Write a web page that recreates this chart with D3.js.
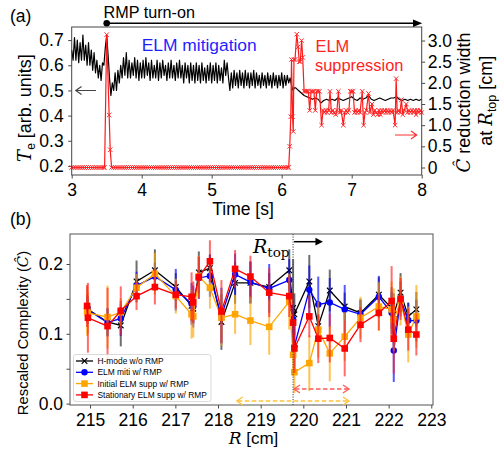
<!DOCTYPE html>
<html><head><meta charset="utf-8">
<script src="https://cdn.jsdelivr.net/npm/d3@7"></script>
<style>body{margin:0;background:#fff}svg{display:block}text{font-family:"Liberation Sans",Arial,sans-serif;fill:#000}</style>
</head><body><svg id="c" width="501" height="450"></svg>
<script>
// ---------------- DATA: panel (a) ----------------
const teStart = 3.0, teStep = 0.02;           // sampling grid of Te trace (early part)
const teEarly = [
0.66,0.62,0.71,0.62,0.70,0.61,0.69,0.62,0.72,0.62,0.68,0.60,0.69,0.60,0.66,0.58,0.65,0.57,0.62,0.55,0.60,0.54,0.61,
0.60,0.67,0.72,0.64,0.55,0.48,0.53,
0.50,0.57,0.50,0.58,0.53,0.60,0.55,0.63,0.56,0.65,
0.55,0.62,0.55,0.61,0.56,0.63,0.55,0.62,0.54,0.61,
0.55,0.62,0.55,0.63,0.56,0.61,0.54,0.62,0.55,0.60,
0.55,0.62,0.54,0.61,0.55,0.62,0.56,0.60,0.54,0.61,
0.55,0.62,0.55,0.60,0.54,0.61,0.55,0.62,0.55,0.60,
0.53,0.61,0.55,0.60,0.53,0.61,0.54,0.60,0.53,0.61,
0.54,0.60,0.53,0.61,0.54,0.59,0.53,0.60,0.54,0.61,
0.53,0.60,0.54,0.61,0.53,0.60,0.54,0.59,0.53,0.62,
0.56,0.61,0.55,0.50,0.57,0.51,0.58,0.52,0.57,0.51,
0.58,0.52,0.57,0.51,0.58,0.52,0.57,0.51,0.57,0.52,
0.58,0.51,0.57,0.52,0.56,0.51,0.57,0.52,0.56,0.51,
0.57,0.52,0.56,0.51,0.57,0.52,0.56,0.51,0.56,0.52,
0.57,0.51,0.56,0.52,0.56,0.53,0.55,0.52,0.50,0.51,0.51
];
const teLateStart = 6.24, teLateStep = 0.04;   // sampling grid of Te trace (late part)
const teLate = [
0.50,0.49,0.48,0.475,0.47,0.465,0.47,0.465,0.45,0.46,
0.465,0.46,0.465,0.46,0.47,0.465,0.46,0.465,0.47,0.475,
0.465,0.46,0.47,0.465,0.47,0.48,0.465,0.46,0.465,0.47,
0.465,0.46,0.465,0.47,0.47,0.475,0.465,0.46,0.465,0.46,
0.465,0.46,0.465,0.46,0.465
];
// [time s, C-hat reduction width cm]
const cReduction = [
[3.00,0],[3.03,0],[3.06,0],[3.09,0],[3.12,0],[3.15,0],[3.18,0],[3.21,0],[3.24,0],[3.27,0],[3.30,0],[3.33,0],[3.36,0],[3.39,0],[3.42,0],[3.45,0],
[3.47,0],[3.50,3.14],[3.535,1.24],[3.55,0.42],[3.57,0],
[3.60,0],[3.63,0],[3.66,0],[3.69,0],[3.72,0],[3.75,0],[3.78,0],[3.81,0],[3.84,0],[3.87,0],
[3.90,0],[3.93,0],[3.96,0],[3.99,0],[4.02,0],[4.05,0],[4.08,0],[4.11,0],[4.14,0],[4.17,0],
[4.20,0],[4.23,0],[4.26,0],[4.29,0],[4.32,0],[4.35,0],[4.38,0],[4.41,0],[4.44,0],[4.47,0],
[4.50,0],[4.53,0],[4.56,0],[4.59,0],[4.62,0],[4.65,0],[4.68,0],[4.71,0],[4.74,0],[4.77,0],
[4.80,0],[4.83,0],[4.86,0],[4.89,0],[4.92,0],[4.95,0],[4.98,0],[5.01,0],[5.04,0],[5.07,0],
[5.10,0],[5.13,0],[5.16,0],[5.19,0],[5.22,0],[5.25,0],[5.28,0],[5.31,0],[5.34,0],[5.37,0],
[5.40,0],[5.43,0],[5.46,0],[5.49,0],[5.52,0],[5.55,0],[5.58,0],[5.61,0],[5.64,0],[5.67,0],
[5.70,0],[5.73,0],[5.76,0],[5.79,0],[5.82,0],[5.85,0],[5.88,0],[5.91,0],[5.94,0],[5.97,0],
[6.00,0],[6.03,0],[6.06,0],[6.09,0],
[6.10,0],[6.115,0.5],[6.13,1.2],[6.14,2.55],[6.155,1.2],[6.165,0.85],[6.175,2.55],[6.19,2.55],[6.215,3.15],[6.235,2.85],
[6.25,2.5],[6.265,2.5],[6.285,3.0],[6.30,2.6],[6.32,1.8],[6.34,1.8],[6.36,1.8],[6.38,1.8],[6.40,1.35],[6.42,1.8],
[6.44,1.8],[6.46,1.8],[6.48,1.35],[6.50,1.8],[6.52,1.8],[6.54,1.8],[6.57,1.0],[6.59,1.35],[6.61,1.3],[6.63,1.35],
[6.65,1.3],[6.67,1.35],[6.69,1.8],[6.71,1.3],[6.73,1.35],[6.75,1.3],[6.77,1.25],[6.79,1.35],[6.81,1.8],[6.83,1.3],
[6.85,1.35],[6.88,1.0],[6.90,1.3],[6.92,1.35],[6.94,1.3],[6.96,1.35],[6.98,1.8],[7.00,1.8],[7.02,1.8],[7.04,1.3],
[7.06,1.35],[7.08,1.3],[7.10,1.35],[7.12,1.3],[7.15,1.8],[7.17,1.0],[7.19,1.3],[7.21,1.35],[7.24,1.75],[7.26,1.3],
[7.29,1.5],[7.31,1.25],[7.33,1.35],[7.35,1.3],[7.37,1.25],[7.39,1.35],[7.41,1.25],[7.43,1.35],[7.45,1.3],[7.47,1.35],
[7.49,1.3],[7.51,1.35],[7.53,1.3],[7.55,1.35],[7.57,1.3],[7.59,1.35],[7.62,1.0],[7.635,2.1],[7.65,1.3],[7.67,1.35],
[7.69,1.3],[7.71,1.6],[7.73,1.25],[7.75,1.35],[7.78,1.5],[7.80,1.3],[7.82,1.35],[7.84,1.3],[7.86,1.35],[7.88,1.3],
[7.90,1.35],[7.92,1.25],[7.94,1.35],[7.96,1.3],[7.98,1.35],[8.00,1.3]
];
const timeTicks = [3,4,5,6,7,8];
const teTicks = [0.2,0.3,0.4,0.5,0.6,0.7];
const widthTicks = [0,0.5,1.0,1.5,2.0,2.5,3.0];
const rmpOnTime = 3.5;

// ---------------- DATA: panel (b) ----------------
const channelR = [214.93,214.95,215.41,215.72,216.09,216.52,217.01,217.38,217.42,217.55,217.81,218.08,218.40,218.76,219.20,219.67,219.76,219.79,220.14,220.35,220.62,220.97,221.34,221.77,222.07,222.12,222.28,222.46,222.65];
const hmodeVals = [0.138,0.135,0.117,0.112,0.175,0.191,0.167,0.140,0.136,0.188,0.194,0.117,0.173,0.173,0.167,0.191,0.137,0.128,0.175,0.111,0.162,0.139,0.130,0.156,0.137,0.128,0.159,0.125,0.135];
const hmodeErr  = [0.015,0.015,0.02,0.03,0.03,0.03,0.02,0.02,0.02,0.03,0.02,0.04,0.03,0.03,0.02,0.03,0.07,0.03,0.038,0.015,0.03,0.02,0.02,0.025,0.03,0.03,0.028,0.02,0.025];
const mitiVals  = [0.136,0.134,0.116,0.122,0.169,0.182,0.163,0.143,0.139,0.180,0.183,0.126,0.185,0.174,0.165,0.177,0.121,0.082,0.163,0.142,0.145,0.135,0.128,0.153,0.130,0.076,0.150,0.119,0.119];
const mitiErr   = [0.02,0.02,0.02,0.025,0.02,0.02,0.03,0.03,0.03,0.03,0.03,0.04,0.03,0.03,0.035,0.03,0.035,0.04,0.035,0.04,0.035,0.035,0.02,0.03,0.03,0.045,0.025,0.025,0.03];
const initVals  = [0.132,0.130,0.124,0.131,0.166,0.186,0.154,0.128,0.125,0.182,0.166,0.123,0.128,0.119,0.110,0.146,0.070,0.045,0.058,0.106,0.072,0.096,0.123,0.139,0.135,0.120,0.147,0.099,0.125];
const initErr   = [0.035,0.03,0.045,0.02,0.02,0.03,0.025,0.035,0.03,0.03,0.03,0.04,0.028,0.035,0.04,0.04,0.03,0.03,0.04,0.04,0.04,0.035,0.03,0.035,0.04,0.045,0.035,0.04,0.045];
const statVals  = [0.140,0.123,0.111,0.133,0.154,0.167,0.156,0.153,0.145,0.181,0.204,0.132,0.193,0.182,0.159,0.154,0.116,0.079,0.125,0.093,0.094,0.079,0.113,0.130,0.147,0.093,0.150,0.106,0.099];
const statErr   = [0.03,0.05,0.055,0.035,0.02,0.025,0.02,0.035,0.03,0.03,0.03,0.045,0.027,0.03,0.035,0.03,0.04,0.035,0.03,0.035,0.035,0.04,0.025,0.025,0.05,0.05,0.03,0.03,0.03];
const seriesNames = ["H-mode w/o RMP","ELM miti w/ RMP","Initial ELM supp w/ RMP","Stationary ELM supp w/ RMP"];
const rTicks = [215,216,217,218,219,220,221,222,223];
const cTicks = [0,0.05,0.1,0.15,0.2];
const rTop = 219.76;
const rTopArrowEnd = 220.46;
const statSpan = [219.78, 221.07];
const initSpan = [218.44, 221.07];

// ---------------- DRAW ----------------
const svg = d3.select("#c");
svg.append("rect").attr("width",501).attr("height",450).attr("fill","#fff");
const SERIF = '"DejaVu Serif","Liberation Serif",serif';

function styleAxis(g, fs){
  g.select(".domain").remove();
  g.selectAll(".tick line").attr("stroke","#333").attr("stroke-width",0.9);
  g.selectAll(".tick text").attr("font-size",fs).attr("fill","#000")
    .attr("font-family",'"Liberation Sans",Arial,sans-serif');
}

// ===== Panel (a) =====
const xA = d3.scaleLinear([3,8],[71.7,421.7]);
const yL = d3.scaleLinear([0.164,0.752],[175,27]);
const yR = d3.scaleLinear([-0.177,3.32],[175,27]);

const gxa = svg.append("g").attr("transform","translate(0,175)")
  .call(d3.axisBottom(xA).tickValues(timeTicks).tickFormat(d3.format("d")).tickSize(3.5).tickPadding(4.8));
styleAxis(gxa,17.5);
const gyl = svg.append("g").attr("transform","translate(71.7,0)")
  .call(d3.axisLeft(yL).tickValues(teTicks).tickFormat(d3.format(".1f")).tickSize(3.5).tickPadding(4.5));
styleAxis(gyl,17.5);
const gyr = svg.append("g").attr("transform","translate(421.7,0)")
  .call(d3.axisRight(yR).tickValues(widthTicks).tickFormat(d=>d===0?"0":d3.format(".1f")(d)).tickSize(3.5).tickPadding(2.5));
styleAxis(gyr,17.5);

// Te line
const tePts = teEarly.map((v,i)=>[teStart+i*teStep,v]).concat(teLate.map((v,i)=>[teLateStart+i*teLateStep,v]));
svg.append("path").datum(tePts)
  .attr("d",d3.line().x(d=>xA(d[0])).y(d=>yL(d[1])))
  .attr("fill","none").attr("stroke","#000").attr("stroke-width",1.2).attr("stroke-linejoin","round");

// C reduction line + x markers
svg.append("path").datum(cReduction)
  .attr("d",d3.line().x(d=>xA(d[0])).y(d=>yR(d[1])))
  .attr("fill","none").attr("stroke","#ff1a1a").attr("stroke-width",1.2);
svg.append("g").selectAll("path").data(cReduction).join("path")
  .attr("d",d=>{const x=xA(d[0]),y=yR(d[1]),s=2.2;return `M${x-s},${y-s}L${x+s},${y+s}M${x-s},${y+s}L${x+s},${y-s}`;})
  .attr("stroke","#ff2a2a").attr("stroke-width",1).attr("fill","none");

// frame
svg.append("rect").attr("x",71.7).attr("y",27).attr("width",350).attr("height",148)
  .attr("fill","none").attr("stroke","#444").attr("stroke-width",1);

// RMP turn-on arrow
svg.append("line").attr("x1",xA(rmpOnTime)).attr("x2",414).attr("y1",23.3).attr("y2",23.3).attr("stroke","#000").attr("stroke-width",1.5);
svg.append("path").attr("d","M413,19.6L422.2,23.3L413,27Z").attr("fill","#000");
svg.append("circle").attr("cx",xA(rmpOnTime)).attr("cy",23.3).attr("r",3.3).attr("fill","#000");
svg.append("text").attr("x",103.5).attr("y",17.5).attr("font-size",16.2).text("RMP turn-on");
svg.append("text").attr("x",10).attr("y",21.5).attr("font-size",17.5).text("(a)");

svg.append("text").attr("x",141.7).attr("y",50.5).attr("font-size",17.4).style("fill","#1f1fff").text("ELM mitigation");
svg.append("text").attr("x",315.5).attr("y",51.5).attr("font-size",16.4).style("fill","#ff2424").text("ELM");
svg.append("text").attr("x",315).attr("y",71).attr("font-size",16.4).style("fill","#ff2424").text("suppression");

// side arrows
svg.append("path").attr("d","M96,90.5H76M81.5,86.5L75.8,90.5L81.5,94.5").attr("fill","none").attr("stroke","#444").attr("stroke-width",1.2);
svg.append("path").attr("d","M395,135H416.5M411,131L416.7,135L411,139").attr("fill","none").attr("stroke","#ff3030").attr("stroke-width",1.2);

// axis titles (a)
svg.append("text").attr("x",243).attr("y",215).attr("font-size",17.5).attr("text-anchor","middle").text("Time [s]");
const ylab = svg.append("text").attr("transform","translate(31,108) rotate(-90)").attr("text-anchor","middle").attr("font-size",18);
ylab.append("tspan").attr("font-family",SERIF).attr("font-style","italic").text("T");
ylab.append("tspan").attr("font-size",12).attr("dy",4).text("e");
ylab.append("tspan").attr("dy",-4).text(" [arb. units]");
const yr1 = svg.append("text").attr("transform","translate(470,102.5) rotate(-90)").attr("text-anchor","middle").attr("font-size",18);
yr1.append("tspan").attr("font-family",SERIF).attr("font-style","italic").text("Ĉ");
yr1.append("tspan").text(" reduction width");
const yr2 = svg.append("text").attr("transform","translate(492,100.7) rotate(-90)").attr("text-anchor","middle").attr("font-size",18);
yr2.append("tspan").text("at ");
yr2.append("tspan").attr("font-family",SERIF).attr("font-style","italic").text("R");
yr2.append("tspan").attr("font-size",12.5).attr("dy",4).text("top");
yr2.append("tspan").attr("dy",-4).text(" [cm]");

// ===== Panel (b) =====
const xB = d3.scaleLinear([214.53,223.04],[70,433]);
const yB = d3.scaleLinear([-0.002,0.243],[405,234]);

const gxb = svg.append("g").attr("transform","translate(0,405)")
  .call(d3.axisBottom(xB).tickValues(rTicks).tickFormat(d3.format("d")).tickSize(3.5).tickPadding(4.8));
styleAxis(gxb,17.5);
const gyb = svg.append("g").attr("transform","translate(70,0)")
  .call(d3.axisLeft(yB).tickValues(cTicks).tickFormat(d=>Math.abs(d*10-Math.round(d*10))<1e-6?d3.format(".1f")(d):"").tickSize(3.5).tickPadding(3.5));
styleAxis(gyb,17.5);

svg.append("rect").attr("x",70).attr("y",234).attr("width",363).attr("height",171)
  .attr("fill","none").attr("stroke","#555").attr("stroke-width",1);

const series = [
  {name:seriesNames[0],vals:hmodeVals,errs:hmodeErr,color:"#000000",ecolor:"#222",marker:"x"},
  {name:seriesNames[1],vals:mitiVals,errs:mitiErr,color:"#0000ff",ecolor:"#0000ff",marker:"o"},
  {name:seriesNames[2],vals:initVals,errs:initErr,color:"#ffa500",ecolor:"#ffa500",marker:"s"},
  {name:seriesNames[3],vals:statVals,errs:statErr,color:"#ff0000",ecolor:"#ff2020",marker:"s"}
];
function markerPath(type,x,y){
  if(type==="x"){const s=2.8;return `M${x-s},${y-s}L${x+s},${y+s}M${x-s},${y+s}L${x+s},${y-s}`;}
  if(type==="o"){const r=3.2;return `M${x-r},${y}a${r},${r} 0 1,0 ${2*r},0a${r},${r} 0 1,0 ${-2*r},0Z`;}
  const h=3.3;return `M${x-h},${y-h}h${2*h}v${2*h}h${-2*h}Z`;
}
series.forEach(s=>{
  const pts = channelR.map((r,i)=>({r,v:s.vals[i],e:s.errs[i]}));
  const g = svg.append("g");
  g.selectAll("line").data(pts).join("line")
    .attr("x1",d=>xB(d.r)).attr("x2",d=>xB(d.r))
    .attr("y1",d=>yB(d.v-d.e)).attr("y2",d=>yB(d.v+d.e))
    .attr("stroke",s.ecolor).attr("stroke-width",2).attr("opacity",0.65);
  g.append("path").datum(pts).attr("d",d3.line().x(d=>xB(d.r)).y(d=>yB(d.v)))
    .attr("fill","none").attr("stroke",s.color).attr("stroke-width",1.3);
  g.selectAll("path.m").data(pts).join("path").attr("class","m")
    .attr("d",d=>markerPath(s.marker,xB(d.r),yB(d.v)))
    .attr("fill",s.marker==="x"?"none":s.color)
    .attr("stroke",s.marker==="x"?s.color:"none").attr("stroke-width",1.2);
});

// R_top line and arrow
svg.append("line").attr("x1",xB(rTop)).attr("x2",xB(rTop)).attr("y1",234).attr("y2",405)
  .attr("stroke","#444").attr("stroke-width",1).attr("stroke-dasharray","1.2,1.3");
svg.append("line").attr("x1",xB(rTop)+1).attr("x2",xB(rTopArrowEnd)-6).attr("y1",241.7).attr("y2",241.7).attr("stroke","#000").attr("stroke-width",1.5);
svg.append("path").attr("d",`M${xB(rTopArrowEnd)-7.5},237.8L${xB(rTopArrowEnd)},241.7L${xB(rTopArrowEnd)-7.5},245.6Z`).attr("fill","#000");
const rt = svg.append("text").attr("x",253).attr("y",253.3).attr("font-size",19);
rt.append("tspan").attr("font-family",SERIF).attr("font-style","italic").text("R");
rt.append("tspan").attr("font-family",SERIF).attr("font-size",13.5).attr("dy",3.5).text("top");

// dashed double arrows
function dArrow(span,y,color){
  const x1=xB(span[0]), x2=xB(span[1]);
  svg.append("line").attr("x1",x1+1).attr("x2",x2-1).attr("y1",y).attr("y2",y)
    .attr("stroke",color).attr("stroke-width",1.4).attr("stroke-dasharray","4.5,2.5");
  svg.append("path").attr("d",`M${x1+6},${y-4}L${x1},${y}L${x1+6},${y+4}M${x2-6},${y-4}L${x2},${y}L${x2-6},${y+4}`)
    .attr("fill","none").attr("stroke",color).attr("stroke-width",1.3);
}
dArrow(statSpan,389,"#ff5a5a");
dArrow(initSpan,401,"#ffc23a");

// legend
const lg = svg.append("g");
lg.append("rect").attr("x",73.5).attr("y",354.5).attr("width",137.5).attr("height",47).attr("rx",2.5)
  .attr("fill","#fff").attr("fill-opacity",0.85).attr("stroke","#d0d0d0").attr("stroke-width",0.8);
series.forEach((s,i)=>{
  const y = 361 + i*11.3;
  lg.append("line").attr("x1",76).attr("x2",93).attr("y1",y).attr("y2",y).attr("stroke",s.color).attr("stroke-width",1.3);
  lg.append("path").attr("d",markerPath(s.marker,84.5,y)).attr("fill",s.marker==="x"?"none":s.color)
    .attr("stroke",s.marker==="x"?s.color:"none").attr("stroke-width",1.2);
  lg.append("text").attr("x",97.5).attr("y",y+3).attr("font-size",8.4).text(s.name);
});

svg.append("text").attr("x",10).attr("y",224.5).attr("font-size",17.5).text("(b)");
const xbl = svg.append("text").attr("x",253.5).attr("y",443.5).attr("font-size",17).attr("text-anchor","middle");
xbl.append("tspan").attr("font-family",SERIF).attr("font-style","italic").text("R");
xbl.append("tspan").text(" [cm]");
const ybl = svg.append("text").attr("transform","translate(27.5,333) rotate(-90)").attr("text-anchor","middle").attr("font-size",14.8);
ybl.append("tspan").text("Rescaled Complexity (");
ybl.append("tspan").attr("font-family",SERIF).attr("font-style","italic").text("Ĉ");
ybl.append("tspan").text(")");
</script></body></html>
